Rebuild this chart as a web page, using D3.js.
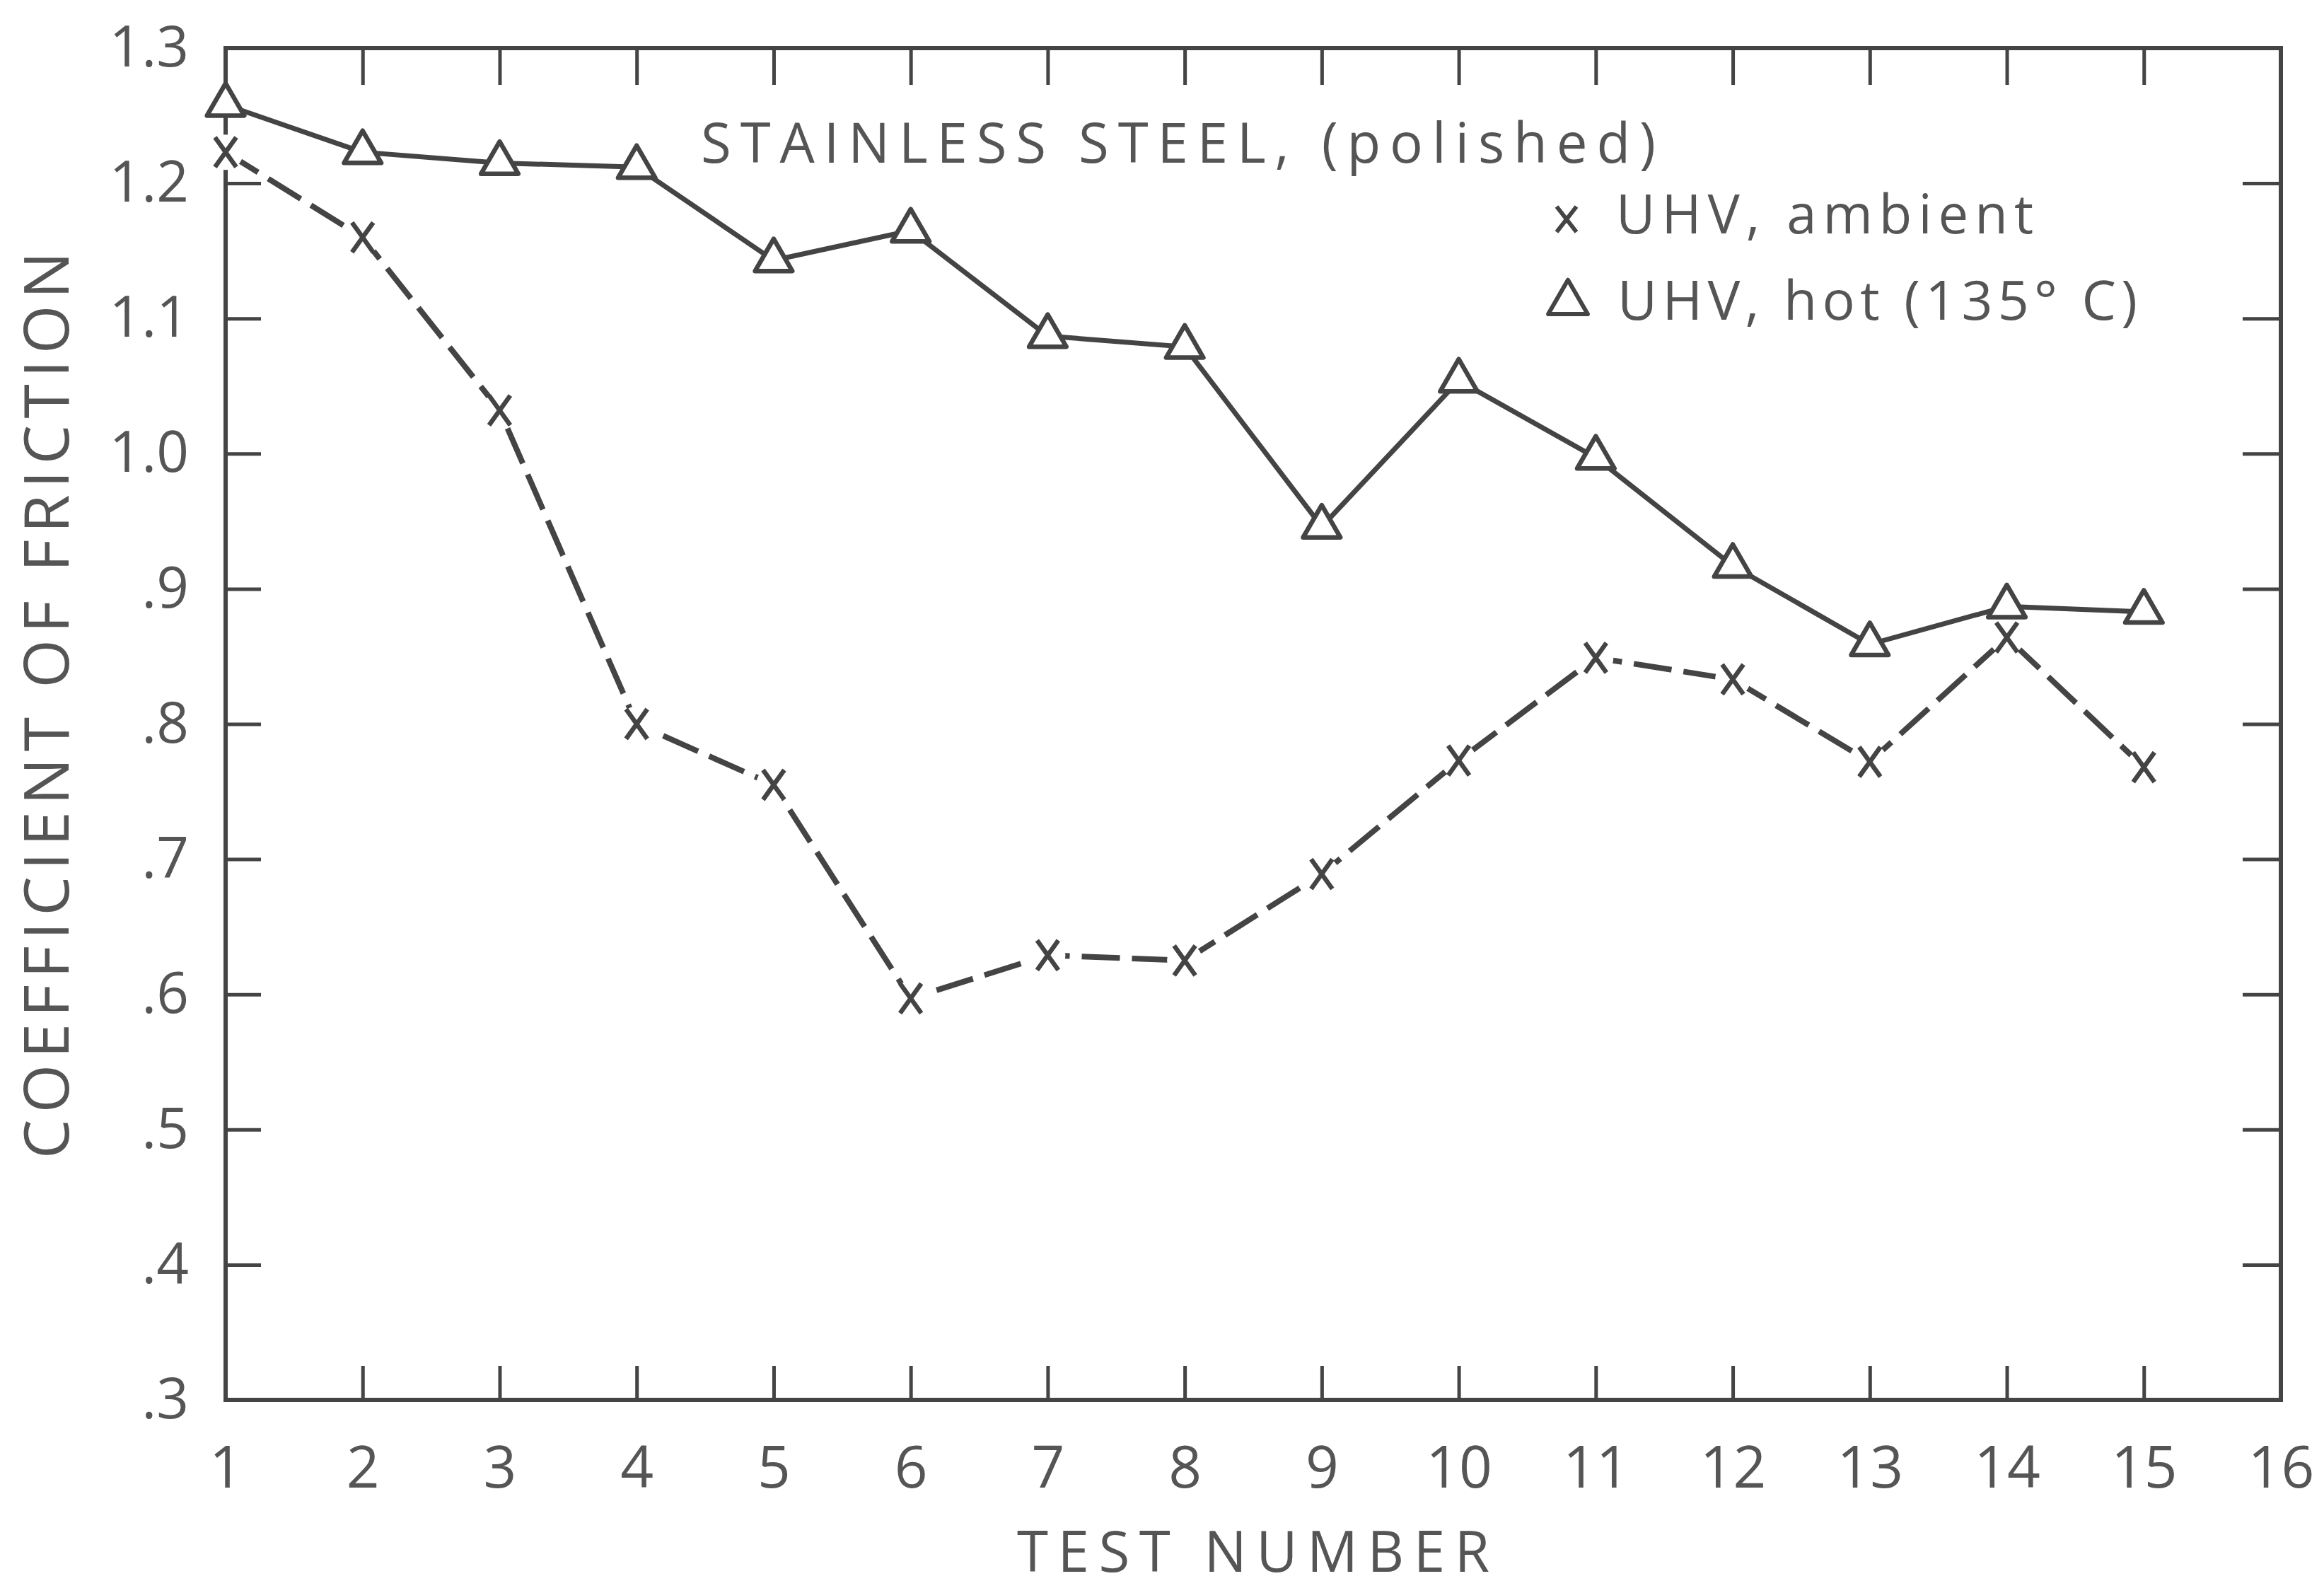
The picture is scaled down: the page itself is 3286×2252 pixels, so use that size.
<!DOCTYPE html>
<html>
<head>
<meta charset="utf-8">
<script src="https://cdn.jsdelivr.net/npm/d3@7"></script>
<style>
  body { margin: 0; background: #fff; }
  svg { display: block; }
</style>
</head>
<body>
<svg id="chart" width="3286" height="2252"></svg>
<script>
// Friction test results, stainless steel (polished)
const testNumbers   = [1, 2, 3, 4, 5, 6, 7, 8, 9, 10, 11, 12, 13, 14, 15];
const hotValues     = [1.258, 1.223, 1.215, 1.212, 1.143, 1.165, 1.087, 1.079, 0.946, 1.054, 0.997, 0.917, 0.859, 0.887, 0.883];
const ambientValues = [1.223, 1.160, 1.032, 0.800, 0.755, 0.597, 0.629, 0.625, 0.689, 0.773, 0.849, 0.833, 0.772, 0.864, 0.768];

const xTickValues = [1, 2, 3, 4, 5, 6, 7, 8, 9, 10, 11, 12, 13, 14, 15, 16];
const yTickValues = [0.3, 0.4, 0.5, 0.6, 0.7, 0.8, 0.9, 1.0, 1.1, 1.2, 1.3];
const yTickLabels = [".3", ".4", ".5", ".6", ".7", ".8", ".9", "1.0", "1.1", "1.2", "1.3"];

const chartTitle   = "STAINLESS STEEL, (polished)";
const legendLabels = ["UHV, ambient", "UHV, hot (135° C)"];
const xTitle = "TEST NUMBER";
const yTitle = "COEFFICIENT OF FRICTION";

const ink = "#444";
const textInk = "#555";
const font = "'Open Sans', 'DejaVu Sans', sans-serif";

const svg = d3.select("#chart");
svg.append("rect").attr("width", 3286).attr("height", 2252).attr("fill", "#fff");

const x = d3.scaleLinear().domain([1, 16]).range([319, 3225]);
const y = d3.scaleLinear().domain([0.3, 1.3]).range([1979, 68]);

// Frame
svg.append("rect")
  .attr("x", x(1)).attr("y", y(1.3))
  .attr("width", x(16) - x(1)).attr("height", y(0.3) - y(1.3))
  .attr("fill", "none").attr("stroke", ink).attr("stroke-width", 6);

function styleAxis(g) {
  g.select(".domain").remove();
  g.selectAll(".tick line").attr("stroke", ink).attr("stroke-width", 5);
  g.selectAll(".tick text")
    .attr("fill", textInk)
    .attr("font-family", font);
}

// Bottom axis with labels, inward ticks
svg.append("g")
  .attr("transform", `translate(0,${y(0.3)})`)
  .call(d3.axisBottom(x).tickValues(xTickValues).tickSize(-48).tickPadding(66).tickFormat(d3.format("d")))
  .call(g => g.attr("font-size", 82))
  .call(styleAxis);

// Left axis with labels, inward ticks
svg.append("g")
  .attr("transform", `translate(${x(1)},0)`)
  .call(d3.axisLeft(y).tickValues(yTickValues).tickSize(-50).tickPadding(52)
    .tickFormat((d, i) => yTickLabels[i]))
  .call(g => g.attr("font-size", 80))
  .call(styleAxis);

// Top and right axes: ticks only
svg.append("g")
  .attr("transform", `translate(0,${y(1.3)})`)
  .call(d3.axisTop(x).tickValues(xTickValues).tickSize(-52).tickFormat(""))
  .call(styleAxis);

svg.append("g")
  .attr("transform", `translate(${x(16)},0)`)
  .call(d3.axisRight(y).tickValues(yTickValues).tickSize(-54).tickFormat(""))
  .call(styleAxis);

// Axis titles
svg.append("text")
  .attr("x", (x(1) + x(16)) / 2).attr("y", 2222)
  .attr("text-anchor", "middle")
  .attr("font-family", font).attr("font-size", 80)
  .attr("fill", textInk)
  .attr("textLength", 668).attr("lengthAdjust", "spacing")
  .text(xTitle);

svg.append("text")
  .attr("transform", "translate(97,997) rotate(-90)")
  .attr("text-anchor", "middle")
  .attr("font-family", font).attr("font-size", 88)
  .attr("fill", textInk)
  .attr("textLength", 1282).attr("lengthAdjust", "spacing")
  .text(yTitle);

// Series
const hotData = testNumbers.map((t, i) => ({ t, v: hotValues[i] }));
const ambientData = testNumbers.map((t, i) => ({ t, v: ambientValues[i] }));

const line = d3.line().x(d => x(d.t)).y(d => y(d.v));

svg.append("path")
  .datum(ambientData)
  .attr("d", line)
  .attr("fill", "none").attr("stroke", ink).attr("stroke-width", 8)
  .attr("stroke-dasharray", "54 17");

svg.append("path")
  .datum(hotData)
  .attr("d", line)
  .attr("fill", "none").attr("stroke", ink).attr("stroke-width", 7);

// Cross markers (ambient) with a clear gap around each
const crossPath = "M-15,-21L15,21M15,-21L-15,21";
const cross = svg.append("g").selectAll("g")
  .data(ambientData).join("g")
  .attr("transform", d => `translate(${x(d.t)},${y(d.v)})`);
cross.append("circle").attr("r", 25).attr("fill", "#fff");
cross.append("path").attr("d", crossPath)
  .attr("stroke", ink).attr("stroke-width", 6.5).attr("fill", "none");

// Triangle markers (hot)
const tri = d3.symbol().type(d3.symbolTriangle).size(1200);
svg.append("g").selectAll("path")
  .data(hotData).join("path")
  .attr("transform", d => `translate(${x(d.t)},${y(d.v)})`)
  .attr("d", tri)
  .attr("fill", "#fff").attr("stroke", ink).attr("stroke-width", 6.5)
  .attr("stroke-linejoin", "round");

// Title and legend
svg.append("text")
  .attr("x", 991).attr("y", 230)
  .attr("font-family", font).attr("font-size", 78)
  .attr("fill", textInk)
  .attr("textLength", 1350).attr("lengthAdjust", "spacing")
  .text(chartTitle);

const legend = svg.append("g");
legend.append("path")
  .attr("transform", "translate(2215,310)")
  .attr("d", "M-14,-18L14,18M14,-18L-14,18")
  .attr("stroke", ink).attr("stroke-width", 6).attr("fill", "none");
legend.append("text")
  .attr("x", 2285).attr("y", 330)
  .attr("font-family", font).attr("font-size", 76)
  .attr("fill", textInk)
  .attr("textLength", 590).attr("lengthAdjust", "spacing")
  .text(legendLabels[0]);

legend.append("path")
  .attr("transform", "translate(2217,428)")
  .attr("d", d3.symbol().type(d3.symbolTriangle).size(1350))
  .attr("fill", "#fff").attr("stroke", ink).attr("stroke-width", 6)
  .attr("stroke-linejoin", "round");
legend.append("text")
  .attr("x", 2287).attr("y", 452)
  .attr("font-family", font).attr("font-size", 77)
  .attr("fill", textInk)
  .attr("textLength", 735).attr("lengthAdjust", "spacing")
  .text(legendLabels[1]);
</script>
</body>
</html>
